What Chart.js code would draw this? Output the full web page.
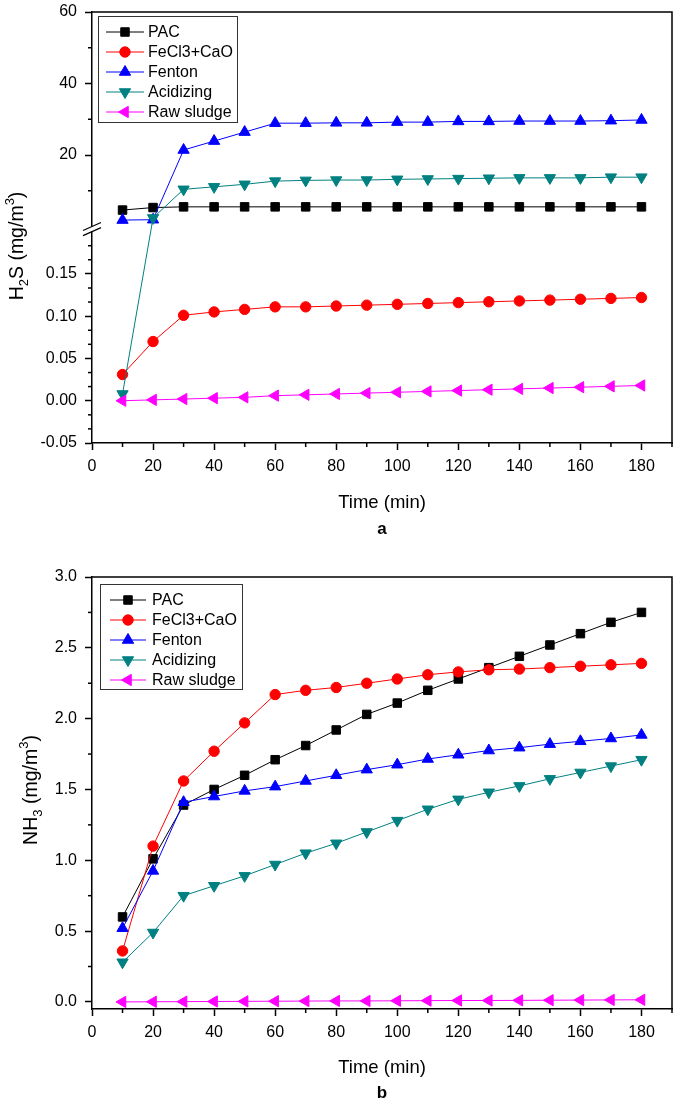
<!DOCTYPE html>
<html><head><meta charset="utf-8">
<script src="https://cdn.jsdelivr.net/npm/chart.js@4.4.1/dist/chart.umd.min.js"></script>
<style>
html,body{margin:0;padding:0;background:#fff;}
#wrap{position:relative;width:675px;height:1102px;overflow:hidden;background:#fff;}
canvas{position:absolute;left:0;}
#c1{top:0}
#c2{top:551px}
</style></head><body>
<div id="wrap"><canvas id="c1" width="675" height="551"></canvas><canvas id="c2" width="675" height="551"></canvas></div>
<script>
// ---------------- DATA ----------------
const times = [10,20,30,40,50,60,70,80,90,100,110,120,130,140,150,160,170,180];
const seriesNames = ['PAC','FeCl3+CaO','Fenton','Acidizing','Raw sludge'];

// Panel a: H2S (mg/m3) -- broken axis (lower -0.05..0.20, upper 0..60)
const h2sPAC       = [4.6,5.3,5.5,5.5,5.5,5.5,5.5,5.5,5.5,5.5,5.5,5.5,5.5,5.5,5.5,5.5,5.5,5.5];
const h2sFeCl3     = [0.031,0.070,0.101,0.105,0.108,0.111,0.111,0.112,0.113,0.114,0.115,0.116,0.117,0.118,0.119,0.120,0.121,0.122];
const h2sFenton    = [1.8,1.9,21.4,23.9,26.4,28.9,28.9,29.0,29.0,29.2,29.2,29.4,29.4,29.5,29.5,29.5,29.6,29.8];
const h2sAcidizing = [0.008,2.4,10.4,11.1,11.8,12.7,12.9,13.0,13.0,13.2,13.3,13.4,13.5,13.6,13.6,13.6,13.8,13.8];
const h2sRaw       = [0.000,0.001,0.002,0.003,0.004,0.006,0.007,0.008,0.009,0.010,0.011,0.012,0.013,0.014,0.015,0.016,0.017,0.018];

// Panel b: NH3 (mg/m3)
const nh3PAC       = [0.60,1.01,1.39,1.50,1.60,1.71,1.81,1.92,2.03,2.11,2.20,2.28,2.36,2.44,2.52,2.60,2.68,2.75];
const nh3FeCl3     = [0.36,1.10,1.56,1.77,1.97,2.17,2.20,2.22,2.25,2.28,2.31,2.33,2.345,2.35,2.36,2.37,2.38,2.39];
const nh3Fenton    = [0.52,0.925,1.41,1.45,1.49,1.52,1.56,1.60,1.64,1.675,1.715,1.745,1.775,1.795,1.82,1.84,1.86,1.885];
const nh3Acidizing = [0.28,0.49,0.75,0.82,0.89,0.97,1.05,1.12,1.20,1.28,1.36,1.43,1.48,1.525,1.575,1.62,1.665,1.71];
const nh3Raw       = [0.000,0.001,0.002,0.003,0.004,0.005,0.006,0.007,0.007,0.008,0.009,0.010,0.010,0.011,0.012,0.013,0.014,0.015];

// Tick values
const xMajorTicks = [0,20,40,60,80,100,120,140,160,180];
const xMinorTicks = [10,30,50,70,90,110,130,150,170,190];
const h2sMajorTicks = [-0.05,0,0.05,0.10,0.15,20,40,60];
const h2sMinorTicks = [-0.0333,-0.0167,0.0167,0.0333,0.0667,0.0833,0.1167,0.1333,0.1667,0.1833,10,30,50];
const nh3MajorTicks = [0,0.5,1.0,1.5,2.0,2.5,3.0];
const nh3MinorTicks = [0.25,0.75,1.25,1.75,2.25,2.75];

// ---------------- STYLE ----------------
const FONT = '"Liberation Sans", Arial, Helvetica, sans-serif';
const seriesColors = ['#000000','#ff0000','#0000ff','#008080','#ff00ff'];
const seriesPointStyles = ['rect','circle','triangle','triangle','triangle'];
const seriesRotations = [0,0,0,180,270];
const seriesRadii = [6,5.2,6.5,6.5,6.5];

Chart.defaults.font.family = FONT;
Chart.defaults.color = '#000';

// Broken linear scale
class BrokenLinearScale extends Chart.LinearScale {
  _seg() {
    const o = this.options.brk;
    const h = this.bottom - this.top;
    const lowH = h * o.lowFrac, gapH = h * o.gapFrac, highH = h - lowH - gapH;
    return {o, lowH, gapH, highH};
  }
  getPixelForValue(value) {
    const {o, lowH, gapH, highH} = this._seg();
    if (value <= o.lowMax) return this.bottom - (value - o.lowMin) / (o.lowMax - o.lowMin) * lowH;
    return this.bottom - lowH - gapH - (value - o.highMin) / (o.highMax - o.highMin) * highH;
  }
  getValueForPixel(pixel) {
    const {o, lowH, gapH, highH} = this._seg();
    const d = this.bottom - pixel;
    if (d <= lowH) return o.lowMin + d / lowH * (o.lowMax - o.lowMin);
    return o.highMin + (d - lowH - gapH) / highH * (o.highMax - o.highMin);
  }
  breakBounds() {
    const {lowH, gapH} = this._seg();
    return {lowTop: this.bottom - lowH, highBottom: this.bottom - lowH - gapH};
  }
}
BrokenLinearScale.id = 'brokenLinear';
BrokenLinearScale.defaults = Chart.LinearScale.defaults;
Chart.register(BrokenLinearScale);

function makeDatasets(seriesValues) {
  return seriesValues.map((vals, i) => ({
    label: seriesNames[i],
    data: times.map((t, k) => ({x: t, y: vals[k]})),
    borderColor: seriesColors[i],
    backgroundColor: seriesColors[i],
    pointBackgroundColor: seriesColors[i],
    pointBorderColor: seriesColors[i],
    pointBorderWidth: 1,
    pointStyle: seriesPointStyles[i],
    pointRotation: seriesRotations[i],
    pointRadius: seriesRadii[i],
    pointHoverRadius: seriesRadii[i],
    borderWidth: 1,
    tension: 0,
    fill: false,
    order: 5 - i
  }));
}

function decorPlugin(cfg) {
  return {
    id: 'decor_' + cfg.name,
    afterDraw(chart) {
      const ctx = chart.ctx;
      const ca = chart.chartArea;
      const xs = chart.scales.x, ys = chart.scales.y;
      ctx.save();
      // frame (top + right)
      ctx.strokeStyle = '#000'; ctx.lineWidth = 1.5;
      ctx.beginPath();
      ctx.moveTo(ca.left, ca.top); ctx.lineTo(ca.right, ca.top); ctx.lineTo(ca.right, ca.bottom);
      ctx.stroke();
      // minor ticks
      ctx.lineWidth = 1.5;
      cfg.minorX.forEach(v => {
        const p = xs.getPixelForValue(v);
        ctx.beginPath(); ctx.moveTo(p, xs.top); ctx.lineTo(p, xs.top + 4); ctx.stroke();
      });
      cfg.minorY.forEach(v => {
        const p = ys.getPixelForValue(v);
        ctx.beginPath(); ctx.moveTo(ys.right, p); ctx.lineTo(ys.right - 4, p); ctx.stroke();
      });
      // axis break
      if (ys.breakBounds) {
        const b = ys.breakBounds();
        const ax = ys.right;
        ctx.fillStyle = '#fff';
        ctx.fillRect(ax - 3, b.highBottom, 6, b.lowTop - b.highBottom);
        ctx.strokeStyle = '#000'; ctx.lineWidth = 1.3;
        [b.highBottom, b.lowTop].forEach(y => {
          ctx.beginPath(); ctx.moveTo(ax - 9, y + 4); ctx.lineTo(ax + 9, y - 4); ctx.stroke();
        });
      }
      // legend
      const L = cfg.legend;
      ctx.fillStyle = '#fff';
      ctx.fillRect(L.left, L.top, L.right - L.left, L.bottom - L.top);
      ctx.strokeStyle = '#333'; ctx.lineWidth = 1;
      ctx.strokeRect(L.left + 0.5, L.top + 0.5, L.right - L.left, L.bottom - L.top);
      chart.data.datasets.forEach((ds, i) => {
        const y = L.rowTop + i * L.rowStep;
        ctx.strokeStyle = ds.borderColor; ctx.lineWidth = 1;
        ctx.beginPath(); ctx.moveTo(L.lineX0, y); ctx.lineTo(L.lineX1, y); ctx.stroke();
        ctx.fillStyle = ds.pointBackgroundColor; ctx.strokeStyle = ds.pointBorderColor; ctx.lineWidth = 1;
        Chart.helpers.drawPoint(ctx, {pointStyle: ds.pointStyle, rotation: ds.pointRotation, radius: ds.pointRadius, borderWidth: 1}, (L.lineX0 + L.lineX1) / 2, y);
        ctx.fillStyle = '#000';
        ctx.font = '16px ' + FONT;
        ctx.textAlign = 'left'; ctx.textBaseline = 'middle';
        ctx.fillText(ds.label, L.textX, y + 1);
      });
      // y-axis title with sub/superscripts
      const T = cfg.yTitle;
      const fs = T.size;
      ctx.translate(T.x, T.y);
      ctx.rotate(-Math.PI / 2);
      ctx.fillStyle = '#000';
      ctx.textAlign = 'left'; ctx.textBaseline = 'alphabetic';
      const fontFor = k => (k === 'n' ? fs : Math.round(fs * 0.65)) + 'px ' + FONT;
      let total = 0;
      T.parts.forEach(p => { ctx.font = fontFor(p[1]); total += ctx.measureText(p[0]).width; });
      let cx = -total / 2;
      const base = fs * 0.36;
      T.parts.forEach(p => {
        ctx.font = fontFor(p[1]);
        let dy = base;
        if (p[1] === 'sub') dy = base + fs * 0.28;
        if (p[1] === 'sup') dy = base - fs * 0.45;
        ctx.fillText(p[0], cx, dy);
        cx += ctx.measureText(p[0]).width;
      });
      ctx.setTransform(1, 0, 0, 1, 0, 0);
      // panel letter
      ctx.font = 'bold 17px ' + FONT;
      ctx.textAlign = 'center'; ctx.textBaseline = 'middle';
      ctx.fillText(cfg.panel, (ca.left + ca.right) / 2, cfg.panelY);
      ctx.restore();
    }
  };
}

function zeroPad(s) { s.paddingTop = 0; s.paddingBottom = 0; s.paddingLeft = 0; s.paddingRight = 0; }

function xScale(height, titlePadBottom) {
  return {
    type: 'linear', position: 'bottom', min: 0, max: 190,
    afterFit: s => { s.height = height; zeroPad(s); },
    afterBuildTicks: s => { s.ticks = xMajorTicks.map(v => ({value: v})); },
    grid: {drawOnChartArea: false, drawTicks: true, tickLength: 7, tickWidth: 1.5, tickColor: '#000'},
    border: {display: true, color: '#000', width: 1.5},
    ticks: {autoSkip: false, maxRotation: 0, padding: 7, font: {size: 16, family: FONT}, color: '#000',
            callback: v => String(v)},
    title: {display: true, text: 'Time (min)', font: {size: 18.5, family: FONT}, color: '#000',
            padding: {top: 0, bottom: titlePadBottom}}
  };
}

// Chart a
new Chart(document.getElementById('c1'), {
  type: 'line',
  data: {datasets: makeDatasets([h2sPAC, h2sFeCl3, h2sFenton, h2sAcidizing, h2sRaw])},
  options: {
    responsive: false, animation: false, devicePixelRatio: 1,
    layout: {autoPadding: false, padding: {left: 0, top: 12, right: 3, bottom: 0}},
    plugins: {legend: {display: false}, tooltip: {enabled: false}},
    scales: {
      x: xScale(108, 37),
      y: {
        type: 'brokenLinear', position: 'left', min: -0.05, max: 60,
        brk: {lowMin: -0.05, lowMax: 0.2, highMin: 0, highMax: 60, lowFrac: 0.4905, gapFrac: 0.0118},
        afterFit: s => { s.width = 92; zeroPad(s); },
        afterBuildTicks: s => { s.ticks = h2sMajorTicks.map(v => ({value: v})); },
        grid: {drawOnChartArea: false, drawTicks: true, tickLength: 7, tickWidth: 1.5, tickColor: '#000'},
        border: {display: true, color: '#000', width: 1.5},
        ticks: {autoSkip: false, padding: 8, font: {size: 16, family: FONT}, color: '#000',
                callback: v => (Math.abs(v) < 1 ? v.toFixed(2) : String(v))},
        title: {display: false}
      }
    }
  },
  plugins: [decorPlugin({
    name: 'a', minorX: xMinorTicks, minorY: h2sMinorTicks, panel: 'a', panelY: 529,
    legend: {left: 98, top: 16, right: 237, bottom: 122, rowTop: 32, rowStep: 20, lineX0: 106, lineX1: 144, textX: 148},
    yTitle: {x: 16, y: 246, size: 19.5, parts: [['H','n'],['2','sub'],['S (mg/m','n'],['3','sup'],[')','n']]}
  })]
});

// Chart b
new Chart(document.getElementById('c2'), {
  type: 'line',
  data: {datasets: makeDatasets([nh3PAC, nh3FeCl3, nh3Fenton, nh3Acidizing, nh3Raw])},
  options: {
    responsive: false, animation: false, devicePixelRatio: 1,
    layout: {autoPadding: false, padding: {left: 0, top: 26, right: 3, bottom: 0}},
    plugins: {legend: {display: false}, tooltip: {enabled: false}},
    scales: {
      x: xScale(93, 23),
      y: {
        type: 'linear', position: 'left', min: -0.05, max: 3.0,
        afterFit: s => { s.width = 92; zeroPad(s); },
        afterBuildTicks: s => { s.ticks = nh3MajorTicks.map(v => ({value: v})); },
        grid: {drawOnChartArea: false, drawTicks: true, tickLength: 7, tickWidth: 1.5, tickColor: '#000'},
        border: {display: true, color: '#000', width: 1.5},
        ticks: {autoSkip: false, padding: 8, font: {size: 16, family: FONT}, color: '#000',
                callback: v => v.toFixed(1)},
        title: {display: false}
      }
    }
  },
  plugins: [decorPlugin({
    name: 'b', minorX: xMinorTicks, minorY: nh3MinorTicks, panel: 'b', panelY: 542,
    legend: {left: 100, top: 33, right: 242, bottom: 138, rowTop: 49, rowStep: 20, lineX0: 110, lineX1: 146, textX: 152},
    yTitle: {x: 30, y: 239, size: 19.5, parts: [['NH','n'],['3','sub'],[' (mg/m','n'],['3','sup'],[')','n']]}
  })]
});
</script>
</body></html>
